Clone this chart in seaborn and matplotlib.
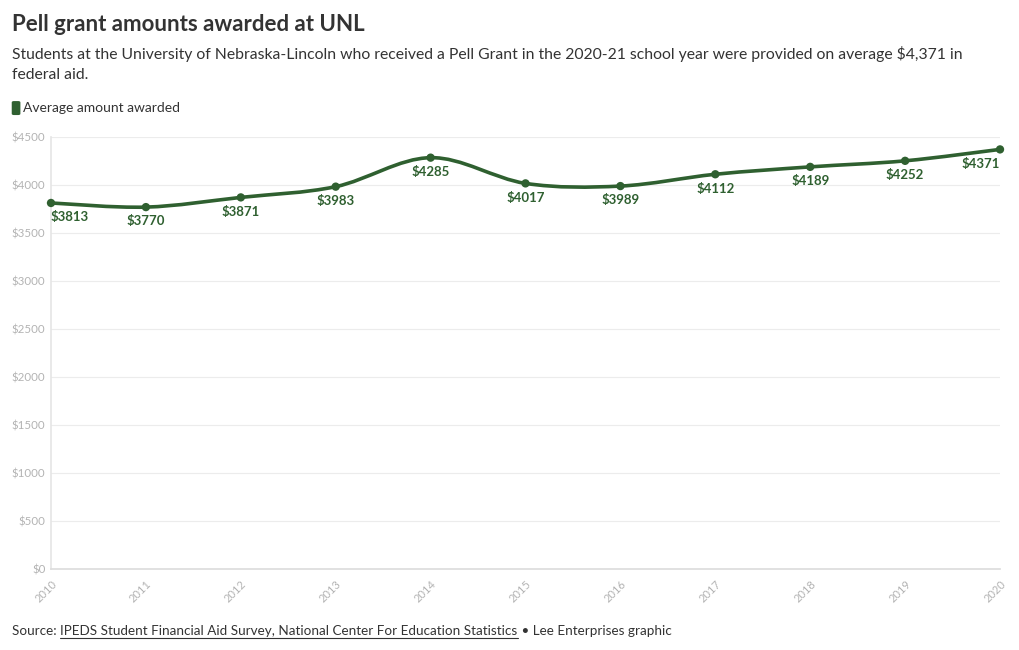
import numpy as np
import pandas as pd
import matplotlib
matplotlib.use("Agg")
import matplotlib.pyplot as plt
from matplotlib.path import Path
from matplotlib.patches import PathPatch
import seaborn as sns

years = [2010, 2011, 2012, 2013, 2014, 2015, 2016, 2017, 2018, 2019, 2020]
avg_award = [3813, 3770, 3871, 3983, 4285, 4017, 3989, 4112, 4189, 4252, 4371]
y_ticks = [0, 500, 1000, 1500, 2000, 2500, 3000, 3500, 4000, 4500]

GREEN = "#2f6030"
GREY = "#b3b3b3"

sns.set_theme(style="white")
plt.rcParams["font.family"] = ["Lato", "DejaVu Sans"]

df = pd.DataFrame({"year": years, "amount": avg_award})

fig = plt.figure(figsize=(10.2, 6.5), dpi=100)
ax = fig.add_axes([0.05, 0.1246, 0.9304, 0.6646])

# smooth curve through the points (catmull-rom as cubic bezier segments)
xs = np.array(years, dtype=float)
ys = np.array(avg_award, dtype=float)
verts = [(xs[0], ys[0])]
codes = [Path.MOVETO]
for i in range(len(xs) - 1):
    p0 = (xs[max(i - 1, 0)], ys[max(i - 1, 0)])
    p1 = (xs[i], ys[i])
    p2 = (xs[i + 1], ys[i + 1])
    p3 = (xs[min(i + 2, len(xs) - 1)], ys[min(i + 2, len(xs) - 1)])
    c1 = (p1[0] + (p2[0] - p0[0]) / 6, p1[1] + (p2[1] - p0[1]) / 6)
    c2 = (p2[0] - (p3[0] - p1[0]) / 6, p2[1] - (p3[1] - p1[1]) / 6)
    verts += [c1, c2, p2]
    codes += [Path.CURVE4] * 3
ax.add_patch(PathPatch(Path(verts, codes), fill=False, edgecolor=GREEN,
                       lw=2.6, clip_on=False, zorder=3, capstyle="round"))

sns.scatterplot(data=df, x="year", y="amount", color=GREEN, s=36,
                edgecolor="none", ax=ax, zorder=4, clip_on=False, legend=False)

for i, (x, y) in enumerate(zip(years, avg_award)):
    ha = "left" if i == 0 else ("right" if i == len(years) - 1 else "center")
    ax.annotate(f"${y}", (x, y), xytext=(0, -6), textcoords="offset points",
                ha=ha, va="top", fontsize=9.5, fontweight="bold", color=GREEN)

ax.set_xlim(2010, 2020)
ax.set_ylim(0, 4500)
ax.set_xticks(years)
ax.set_xticklabels([str(y) for y in years], rotation=45, ha="right",
                   rotation_mode="anchor", fontsize=8, color=GREY)
ax.set_yticks(y_ticks)
ax.set_yticklabels([f"${v}" for v in y_ticks], fontsize=8.3, color=GREY)
ax.tick_params(axis="x", length=4, color="#dddddd", pad=3)
ax.tick_params(axis="y", length=0, pad=4)
ax.grid(axis="y", color="#ececec", lw=0.8)
ax.set_xlabel("")
ax.set_ylabel("")
for side in ["top", "right"]:
    ax.spines[side].set_visible(False)
ax.spines["left"].set_color("#e6e6e6")
ax.spines["bottom"].set_color("#dddddd")

fig.text(0.012, 0.963, "Pell grant amounts awarded at UNL", fontsize=16,
         fontweight="bold", color="#333333", va="center")
fig.text(0.012, 0.917, "Students at the University of Nebraska-Lincoln who received a Pell Grant "
         "in the 2020-21 school year were provided on average $4,371 in",
         fontsize=11.35, color="#333333", va="center")
fig.text(0.012, 0.885, "federal aid.", fontsize=11.35, color="#333333", va="center")

fig.patches.append(matplotlib.patches.FancyBboxPatch(
    (0.0115, 0.823), 0.0085, 0.0215, boxstyle="round,pad=0,rounding_size=0.002",
    transform=fig.transFigure, facecolor=GREEN, edgecolor="none"))
fig.text(0.023, 0.834, "Average amount awarded", fontsize=10, color="#333333", va="center")

src = fig.text(0.012, 0.029, "Source: ", fontsize=9.7, color="#333333", va="center")
fig.canvas.draw()
bb = src.get_window_extent()
x1 = bb.x1 / fig.bbox.width
link = fig.text(x1, 0.029, "IPEDS Student Financial Aid Survey, National Center For Education Statistics",
                fontsize=9.7, color="#333333", va="center")
fig.canvas.draw()
lb = link.get_window_extent()
lx0, lx1 = lb.x0 / fig.bbox.width, lb.x1 / fig.bbox.width
fig.lines.append(plt.Line2D([lx0, lx1], [0.018, 0.018], transform=fig.transFigure,
                            color="#333333", lw=0.8))
fig.text(lx1, 0.029, " • Lee Enterprises graphic", fontsize=9.7, color="#333333", va="center")

fig.savefig("out.png", dpi=100)
